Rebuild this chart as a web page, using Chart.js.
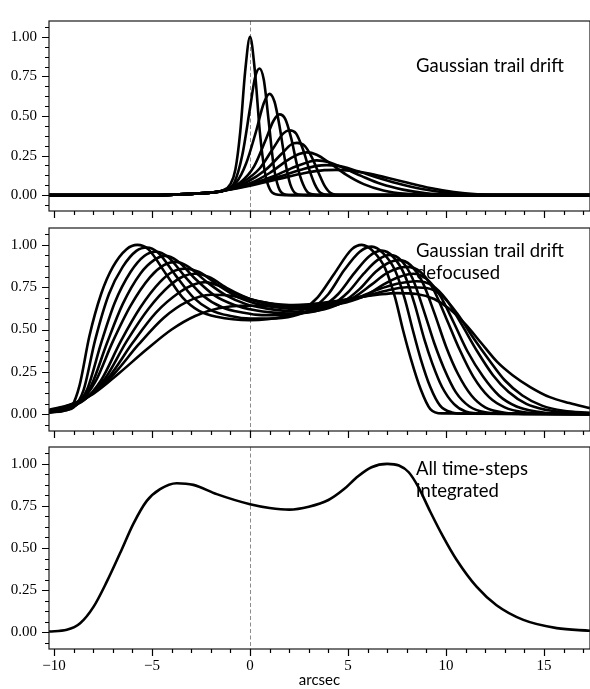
<!DOCTYPE html>
<html>
<head>
<meta charset="utf-8">
<script src="https://cdn.jsdelivr.net/npm/chart.js@4.4.1/dist/chart.umd.min.js"></script>
<style>
  html, body { margin: 0; padding: 0; background: #fff; }
  #wrap { position: relative; width: 590px; height: 689px; }
  #wrap canvas { position: absolute; left: 0; top: 0; }
</style>
</head>
<body>
<div id="wrap">
  <canvas id="p1" width="590" height="689"></canvas>
  <canvas id="p2" width="590" height="689"></canvas>
  <canvas id="p3" width="590" height="689"></canvas>
</div>
<script>
/* ---- axes ---- */
const xMin = -10.26, xMax = 17.35;
const yMin = -0.1, yMax = 1.1;
const xMajor = [-10, -5, 0, 5, 10, 15];
const yMajor = [0, 0.25, 0.5, 0.75, 1.0];
const xMinorStep = 1;
const yMinorStep = 0.0625;
const markerX = [0];
const xTitle = 'arcsec';
const panelText = [
  ['Gaussian trail drift'],
  ['Gaussian trail drift', 'defocused'],
  ['All time-steps', 'integrated'],
];

/* ---- panel 1: focused gaussian, one curve per time-step ---- */
const driftX = [
  [-10.26, -5, -3, -2, -1.4, -1.0, -0.75, -0.5, -0.25, 0, 0.25, 0.5, 0.75, 1.0, 1.3, 2, 17.35],
  [-10.26, -5, -3, -2, -1.3, -0.8, -0.4, 0, 0.25, 0.48, 0.7, 0.95, 1.2, 1.45, 1.75, 2.3, 17.35],
  [-10.26, -5, -3, -2, -1.3, -0.7, -0.2, 0.3, 0.7, 0.99, 1.25, 1.5, 1.8, 2.05, 2.35, 2.9, 17.35],
  [-10.26, -5, -3, -2, -1.3, -0.5, 0.2, 0.8, 1.2, 1.5, 1.8, 2.1, 2.4, 2.7, 3.0, 3.6, 17.35],
  [-10.26, -5, -3, -2, -1.3, -0.4, 0.5, 1.2, 1.7, 2.0, 2.35, 2.7, 3.0, 3.3, 3.6, 4.2, 17.35],
  [-10.26, -5, -3, -2, -1.3, -0.2, 0.8, 1.6, 2.1, 2.4, 2.8, 3.15, 3.5, 3.8, 4.1, 4.7, 17.35],
  [-10.26, -5, -3, -2, -1.3, 0, 1.0, 1.9, 2.5, 2.9, 3.4, 4.1, 4.9, 5.8, 6.8, 8, 9.5, 17.35],
  [-10.26, -5, -3, -2, -1.3, 0, 1.2, 2.3, 3.0, 3.4, 4.0, 4.8, 5.7, 6.7, 7.8, 9, 10.5, 11.5, 17.35],
  [-10.26, -5, -3, -2, -1.3, 0, 1.3, 2.6, 3.4, 3.9, 4.5, 5.4, 6.4, 7.5, 8.7, 10, 11.3, 12.5, 17.35],
  [-10.26, -5, -3, -2, -1.3, 0, 1.4, 2.8, 3.8, 4.4, 5.1, 6.0, 7.0, 8.0, 9.2, 10.4, 11.6, 13, 17.35],
];
const driftY = [
  [0, 0, 0.008, 0.016, 0.03, 0.07, 0.16, 0.4, 0.78, 1.0, 0.78, 0.4, 0.15, 0.04, 0.006, 0, 0],
  [0, 0, 0.008, 0.016, 0.03, 0.08, 0.25, 0.55, 0.74, 0.80, 0.73, 0.47, 0.19, 0.05, 0.006, 0, 0],
  [0, 0, 0.008, 0.016, 0.03, 0.08, 0.2, 0.4, 0.58, 0.64, 0.59, 0.44, 0.21, 0.07, 0.01, 0, 0],
  [0, 0, 0.008, 0.016, 0.03, 0.08, 0.18, 0.35, 0.47, 0.51, 0.48, 0.36, 0.19, 0.07, 0.012, 0, 0],
  [0, 0, 0.008, 0.016, 0.03, 0.08, 0.17, 0.3, 0.39, 0.41, 0.39, 0.29, 0.17, 0.07, 0.015, 0, 0],
  [0, 0, 0.008, 0.016, 0.03, 0.08, 0.16, 0.26, 0.32, 0.33, 0.31, 0.24, 0.14, 0.06, 0.015, 0, 0],
  [0, 0, 0.008, 0.016, 0.03, 0.075, 0.14, 0.22, 0.26, 0.27, 0.255, 0.2, 0.13, 0.07, 0.03, 0.008, 0, 0],
  [0, 0, 0.008, 0.016, 0.03, 0.07, 0.12, 0.18, 0.21, 0.22, 0.21, 0.17, 0.12, 0.07, 0.035, 0.012, 0.002, 0, 0],
  [0, 0, 0.008, 0.016, 0.03, 0.065, 0.11, 0.16, 0.185, 0.19, 0.185, 0.155, 0.115, 0.075, 0.04, 0.016, 0.004, 0, 0],
  [0, 0, 0.008, 0.016, 0.03, 0.06, 0.1, 0.14, 0.158, 0.16, 0.155, 0.138, 0.11, 0.08, 0.045, 0.02, 0.006, 0, 0],
];

/* ---- panel 2: defocused (ring) profile, one curve per time-step ---- */
const defocX = [
  [-10.26, -9.5, -9.1, -8.7, -8.2, -7.6, -7.0, -6.3, -5.75, -5.2, -4.3, -3.45, -2.6, -1.7, 0, 1.7, 2.6, 3.45, 4.3, 5.2, 5.7, 6.3, 6.9, 7.4, 7.8, 8.2, 8.7, 9.2, 9.8, 17.35],
  [-10.26, -9.5, -9.0, -8.5, -7.9, -7.2, -6.5, -5.8, -5.27, -4.7, -3.8, -2.9, -2.0, -1.0, 0, 1.0, 2.2, 3.1, 4.0, 4.8, 5.6, 6.21, 6.8, 7.4, 7.9, 8.3, 8.7, 9.2, 9.7, 10.3, 11, 17.35],
  [-10.26, -9.5, -8.9, -8.3, -7.6, -6.9, -6.1, -5.4, -4.8, -4.2, -3.3, -2.4, -1.4, -0.4, 0.6, 1.6, 2.6, 3.6, 4.5, 5.3, 6.1, 6.72, 7.3, 7.9, 8.4, 8.9, 9.3, 9.8, 10.4, 11, 12, 17.35],
  [-10.26, -9.5, -8.8, -8.1, -7.3, -6.5, -5.6, -4.9, -4.34, -3.7, -2.8, -1.8, -0.8, 0.2, 1.2, 2.2, 3.2, 4.1, 5.0, 5.8, 6.5, 7.14, 7.7, 8.3, 8.9, 9.4, 9.9, 10.5, 11.2, 12, 13, 17.35],
  [-10.26, -9.5, -8.7, -7.9, -7.0, -6.1, -5.1, -4.4, -3.83, -3.2, -2.2, -1.2, -0.2, 0.8, 1.8, 2.8, 3.8, 4.7, 5.6, 6.4, 7.0, 7.57, 8.2, 8.8, 9.4, 10, 10.6, 11.3, 12, 13, 14, 17.35],
  [-10.26, -9.4, -8.5, -7.6, -6.6, -5.6, -4.6, -3.9, -3.32, -2.6, -1.6, -0.6, 0.4, 1.4, 2.4, 3.4, 4.4, 5.3, 6.2, 7.0, 8.0, 8.7, 9.3, 10, 10.7, 11.4, 12.2, 13, 14, 15, 17.35],
  [-10.26, -9.4, -8.4, -7.4, -6.3, -5.2, -4.1, -3.4, -2.81, -2.1, -1.1, -0.1, 0.9, 1.9, 2.9, 3.9, 4.9, 5.9, 6.8, 7.6, 8.33, 9, 9.7, 10.4, 11.1, 11.9, 12.7, 13.6, 14.6, 15.6, 17.35],
  [-10.26, -9.3, -8.3, -7.2, -6.0, -4.8, -3.6, -2.9, -2.3, -1.5, -0.5, 0.5, 1.5, 2.5, 3.5, 4.5, 5.5, 6.5, 7.5, 8.5, 9.3, 10, 10.8, 11.6, 12.4, 13.2, 14.1, 15.1, 16.2, 17.35],
  [-10.26, -9.3, -8.2, -7.0, -5.7, -4.4, -3.2, -2.0, -1.0, 0, 1, 2, 3, 4, 5, 6, 7, 8, 9, 9.8, 10.6, 11.4, 12.2, 13, 13.9, 14.9, 16, 17.35],
  [-10.26, -9.2, -8, -6.7, -5.3, -4, -2.8, -1.6, -0.5, 0.5, 1.5, 2.5, 3.5, 4.5, 5.5, 6.5, 7.5, 8.5, 9.4, 10.2, 11, 11.8, 12.6, 13.4, 14.3, 15.3, 16.3, 17.35],
];
const defocY = [
  [0.01, 0.02, 0.045, 0.17, 0.46, 0.71, 0.87, 0.975, 1.0, 0.975, 0.83, 0.69, 0.61, 0.575, 0.555, 0.575, 0.61, 0.69, 0.83, 0.975, 1.0, 0.96, 0.86, 0.69, 0.5, 0.33, 0.15, 0.03, 0.004, 0],
  [0.01, 0.02, 0.04, 0.14, 0.44, 0.71, 0.87, 0.965, 0.985, 0.955, 0.82, 0.69, 0.615, 0.58, 0.565, 0.565, 0.58, 0.62, 0.71, 0.85, 0.96, 0.99, 0.95, 0.85, 0.68, 0.5, 0.33, 0.16, 0.05, 0.01, 0.002, 0],
  [0.01, 0.025, 0.05, 0.15, 0.42, 0.66, 0.84, 0.935, 0.96, 0.93, 0.81, 0.7, 0.63, 0.6, 0.585, 0.585, 0.595, 0.63, 0.71, 0.83, 0.935, 0.966, 0.93, 0.82, 0.65, 0.44, 0.3, 0.16, 0.06, 0.015, 0.002, 0],
  [0.012, 0.028, 0.06, 0.17, 0.42, 0.65, 0.83, 0.91, 0.935, 0.905, 0.8, 0.7, 0.645, 0.615, 0.6, 0.595, 0.605, 0.64, 0.72, 0.83, 0.91, 0.94, 0.91, 0.8, 0.6, 0.42, 0.27, 0.13, 0.045, 0.01, 0.002, 0],
  [0.014, 0.03, 0.07, 0.19, 0.43, 0.64, 0.81, 0.88, 0.9, 0.875, 0.78, 0.7, 0.65, 0.625, 0.61, 0.605, 0.62, 0.66, 0.74, 0.84, 0.89, 0.91, 0.88, 0.78, 0.6, 0.4, 0.24, 0.11, 0.04, 0.008, 0.001, 0],
  [0.016, 0.035, 0.08, 0.2, 0.43, 0.63, 0.78, 0.845, 0.86, 0.84, 0.76, 0.69, 0.65, 0.63, 0.62, 0.625, 0.645, 0.69, 0.765, 0.835, 0.87, 0.84, 0.75, 0.57, 0.38, 0.22, 0.1, 0.04, 0.01, 0.002, 0],
  [0.018, 0.04, 0.09, 0.21, 0.43, 0.62, 0.76, 0.815, 0.83, 0.81, 0.74, 0.685, 0.65, 0.635, 0.63, 0.64, 0.66, 0.7, 0.765, 0.81, 0.83, 0.8, 0.7, 0.54, 0.37, 0.22, 0.11, 0.045, 0.015, 0.004, 0.001],
  [0.02, 0.045, 0.1, 0.22, 0.42, 0.6, 0.72, 0.765, 0.78, 0.755, 0.7, 0.665, 0.645, 0.64, 0.645, 0.66, 0.69, 0.735, 0.77, 0.785, 0.76, 0.68, 0.53, 0.37, 0.23, 0.13, 0.06, 0.025, 0.008, 0.003],
  [0.022, 0.05, 0.11, 0.23, 0.41, 0.57, 0.665, 0.705, 0.7, 0.675, 0.655, 0.645, 0.645, 0.655, 0.675, 0.7, 0.73, 0.75, 0.745, 0.7, 0.59, 0.45, 0.32, 0.2, 0.11, 0.05, 0.02, 0.008],
  [0.025, 0.055, 0.12, 0.24, 0.38, 0.5, 0.58, 0.625, 0.64, 0.64, 0.64, 0.645, 0.655, 0.67, 0.69, 0.705, 0.715, 0.71, 0.68, 0.62, 0.53, 0.42, 0.31, 0.23, 0.16, 0.1, 0.065, 0.035],
];

/* ---- panel 3: sum over all time-steps ---- */
const totalX = [-10.26, -9.35, -8.67, -7.99, -7.31, -6.63, -5.95, -5.27, -4.59, -3.74, -2.89, -1.7, 0, 1.0, 2.0, 3.0, 4.0, 4.8, 5.5, 6.2, 7.0, 7.6, 8.1, 8.6, 9.18, 9.86, 10.54, 11.56, 12.58, 13.95, 15.65, 17.35];
const totalY = [0.004, 0.014, 0.053, 0.15, 0.3, 0.47, 0.645, 0.78, 0.85, 0.885, 0.875, 0.82, 0.76, 0.738, 0.728, 0.745, 0.785, 0.85, 0.925, 0.98, 1.0, 0.99, 0.95, 0.86, 0.72, 0.566, 0.43, 0.27, 0.16, 0.073, 0.024, 0.008];

/* ---- helpers ---- */
const toPts = (xs, ys) => xs.map((x, i) => ({ x, y: ys[i] }));
const line = pts => ({ data: pts, borderColor: '#000', borderWidth: 2.6, pointRadius: 0, fill: false, cubicInterpolationMode: 'monotone' });
const minus = v => (v < 0 ? '\u2212' + Math.abs(v) : String(v));

const axesDecor = {
  id: 'axesDecor',
  beforeDatasetsDraw(chart) {
    const { ctx, chartArea: a, scales: { x } } = chart;
    ctx.save();
    ctx.strokeStyle = '#8c8c8c'; ctx.lineWidth = 1; ctx.setLineDash([4, 2.5]);
    markerX.forEach(v => {
      const px = Math.round(x.getPixelForValue(v)) + 0.5;
      ctx.beginPath(); ctx.moveTo(px, a.top); ctx.lineTo(px, a.bottom); ctx.stroke();
    });
    ctx.restore();
  },
  afterDraw(chart, args, opts) {
    const { ctx, chartArea: a, scales: { x, y } } = chart;
    ctx.save();
    ctx.strokeStyle = '#1a1a1a'; ctx.lineWidth = 1.2;
    ctx.strokeRect(a.left, a.top, a.right - a.left, a.bottom - a.top);
    ctx.strokeStyle = '#000'; ctx.lineWidth = 1.2;
    ctx.beginPath();
    for (let v = Math.ceil(xMin); v <= xMax; v += xMinorStep) {
      const px = Math.round(x.getPixelForValue(v)) + 0.5;
      const len = xMajor.includes(v) ? 7 : 4;
      ctx.moveTo(px, a.bottom); ctx.lineTo(px, a.bottom + len);
    }
    for (let i = Math.ceil(yMin / yMinorStep); i * yMinorStep <= yMax; i++) {
      const v = i * yMinorStep;
      const py = Math.round(y.getPixelForValue(v)) + 0.5;
      const len = (i % 4 === 0) ? 7 : 4;
      ctx.moveTo(a.left, py); ctx.lineTo(a.left - len, py);
    }
    ctx.stroke();
    ctx.fillStyle = '#000';
    ctx.font = '18.5px Lato';
    ctx.textBaseline = 'alphabetic';
    (opts.lines || []).forEach((t, i) => ctx.fillText(t, a.left + 367, a.top + opts.base + i * 21.5));
    ctx.restore();
  }
};

function makePanel(id, datasets, pad, showX, text, base) {
  return new Chart(document.getElementById(id), {
    type: 'line',
    data: { datasets },
    plugins: [axesDecor],
    options: {
      responsive: false,
      animation: false,
      events: [],
      layout: { padding: { top: pad[0], bottom: pad[1], left: 0, right: 0 } },
      plugins: { legend: { display: false }, tooltip: { enabled: false }, axesDecor: { lines: text, base } },
      scales: {
        x: {
          type: 'linear', min: xMin, max: xMax,
          afterBuildTicks: s => { s.ticks = xMajor.map(v => ({ value: v })); },
          afterFit: s => { s.height = showX ? 40 : 10; },
          grid: { display: false, drawTicks: false },
          border: { display: false },
          ticks: { display: showX, padding: 8, color: '#000', font: { family: 'Liberation Serif', size: 15 }, callback: minus, maxRotation: 0, autoSkip: false },
          title: { display: showX, text: xTitle, color: '#000', font: { family: 'Lato', size: 15 }, padding: { top: 0, bottom: 0 } },
        },
        y: {
          min: yMin, max: yMax,
          afterBuildTicks: s => { s.ticks = yMajor.map(v => ({ value: v })); },
          afterFit: s => { s.width = 49; },
          grid: { display: false, drawTicks: false },
          border: { display: false },
          ticks: { padding: 12, color: '#000', font: { family: 'Liberation Serif', size: 15 }, callback: v => v.toFixed(2) },
        },
      },
    },
  });
}

makePanel('p1', driftX.map((xs, i) => line(toPts(xs, driftY[i]))), [9, 468], false, panelText[0], 51);
makePanel('p2', defocX.map((xs, i) => line(toPts(xs, defocY[i]))), [228, 248], false, panelText[1], 29);
makePanel('p3', [line(toPts(totalX, totalY))], [447, 0], true, panelText[2], 28);
</script>
</body>
</html>
